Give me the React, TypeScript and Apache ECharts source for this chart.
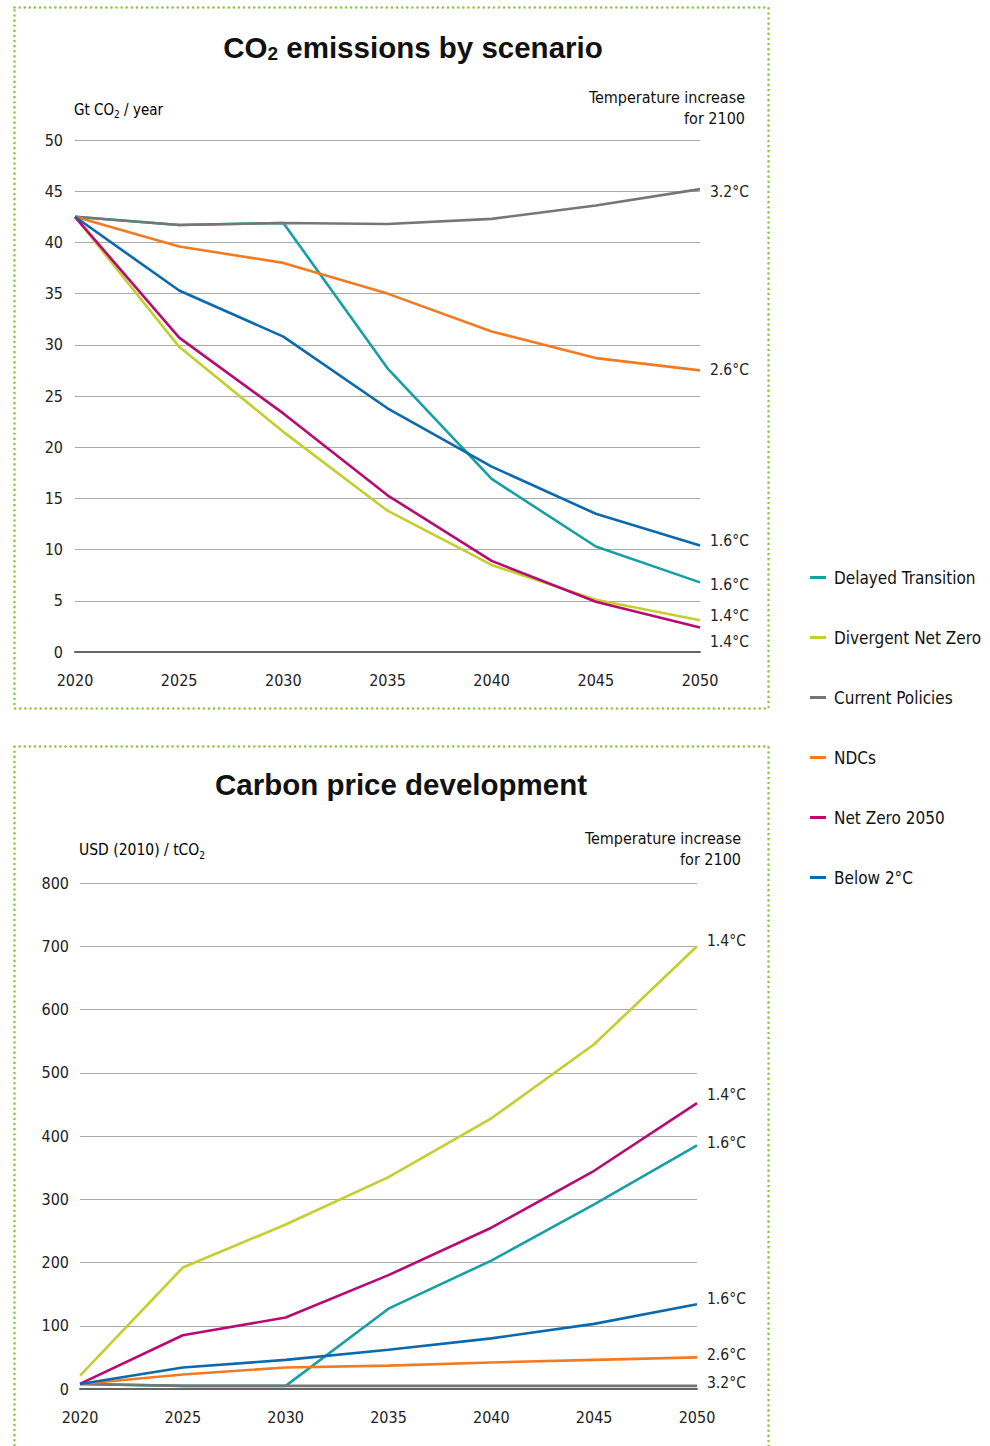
import React, { useEffect, useRef } from "react";
import * as echarts from "echarts";

const years = [2020, 2025, 2030, 2035, 2040, 2045, 2050];
const scenarios = ["Delayed Transition", "Divergent Net Zero", "Current Policies", "NDCs", "Net Zero 2050", "Below 2°C"];
const colors = ["#16a0a6", "#c3cf2c", "#767676", "#f47a22", "#b70a73", "#0b69ad"];

// Emissions, Gt CO2 / year
const emDelayed = [42.5, 41.7, 41.9, 27.7, 16.9, 10.3, 6.8];
const emDivergent = [42.5, 29.8, 21.5, 13.8, 8.5, 5.1, 3.1];
const emCurrent = [42.5, 41.7, 41.9, 41.8, 42.3, 43.6, 45.2];
const emNDCs = [42.5, 39.6, 38.0, 35.0, 31.3, 28.7, 27.5];
const emNetZero = [42.5, 30.7, 23.3, 15.3, 8.9, 4.9, 2.4];
const emBelow2 = [42.5, 35.3, 30.8, 23.8, 18.1, 13.5, 10.4];
const emTemps = ["1.6°C", "1.4°C", "3.2°C", "2.6°C", "1.4°C", "1.6°C"];

// Carbon price, USD (2010) / tCO2
const prDelayed = [8, 5, 5, 127, 203, 292, 385];
const prDivergent = [21, 192, 260, 335, 428, 545, 700];
const prCurrent = [8, 5, 5, 5, 5, 5, 5];
const prNDCs = [8, 23, 34, 37, 42, 46, 50];
const prNetZero = [8, 85, 113, 180, 255, 345, 452];
const prBelow2 = [8, 34, 46, 62, 80, 103, 134];
const prTemps = ["1.6°C", "1.4°C", "3.2°C", "2.6°C", "1.4°C", "1.6°C"];

const emTicks = [0, 5, 10, 15, 20, 25, 30, 35, 40, 45, 50];
const prTicks = [0, 100, 200, 300, 400, 500, 600, 700, 800];

const FONT = '"Liberation Sans Narrow", "DejaVu Sans Condensed", "Roboto Condensed", sans-serif';
const TITLE_FONT = '"Liberation Sans", Arial, sans-serif';

const emSeries = [emDelayed, emDivergent, emCurrent, emNDCs, emNetZero, emBelow2];
const prSeries = [prDelayed, prDivergent, prCurrent, prNDCs, prNetZero, prBelow2];
const emLabelOffsets = [3, -4, 3, 0, 15, -5];
const prLabelOffsets = [-2, -5, -3, -2, -8, -5];

export default function App() {
  const ref = useRef<HTMLDivElement>(null);
  useEffect(() => {
    if (!ref.current) return;
    const chart = echarts.init(ref.current, undefined, { renderer: "svg" });

    const mkSeries = (data: number[][], temps: string[], offs: number[], idx: number) =>
      data.map((vals, i) => ({
        name: scenarios[i],
        type: "line",
        xAxisIndex: idx,
        yAxisIndex: idx,
        data: vals.map((v, j) => [years[j], v]),
        showSymbol: false,
        symbol: "none",
        lineStyle: { color: colors[i], width: 2.6 },
        itemStyle: { color: colors[i] },
        endLabel: {
          show: true,
          formatter: () => temps[i],
          color: "#222",
          fontFamily: FONT,
          fontSize: 15.5,
          distance: 10,
          offset: [0, offs[i]],
        },
      }));

    const xAxisBase = (gi: number) => ({
      type: "value",
      gridIndex: gi,
      min: 2020,
      max: 2050,
      interval: 5,
      axisLine: { show: true, lineStyle: { color: "#666", width: 2 } },
      axisTick: { show: false },
      splitLine: { show: false },
      axisLabel: { color: "#222", fontFamily: FONT, fontSize: 16, margin: 20, formatter: (v: number) => String(v) },
    });

    const yAxisBase = (gi: number, max: number, interval: number, margin: number) => ({
      type: "value",
      gridIndex: gi,
      min: 0,
      max,
      interval,
      axisLine: { show: false },
      axisTick: { show: false },
      splitLine: { show: true, lineStyle: { color: "#aaaaaa", width: 1 } },
      axisLabel: { color: "#222", fontFamily: FONT, fontSize: 16, margin },
    });

    const richSub = (size: number, subSize: number, bold: boolean, font: string) => ({
      a: { fontSize: size, fontWeight: bold ? "bold" : "normal", fontFamily: font, color: "#111" },
      s: { fontSize: subSize, fontWeight: bold ? "bold" : "normal", fontFamily: font, color: "#111", padding: [bold ? 13 : 10, 0, 0, 0] },
    });

    const dotted = {
      stroke: "#8cc63f",
      fill: "none",
      lineWidth: 2.5,
      lineDash: [0.1, 5],
      lineCap: "round",
    };

    chart.setOption({
      animation: false,
      backgroundColor: "#ffffff",
      title: [
        {
          text: "{a|CO}{s|2}{a| emissions by scenario}",
          left: 408,
          top: 26,
          textAlign: "center",
          textStyle: { rich: richSub(29.5, 19, true, TITLE_FONT) },
        },
        {
          text: "Carbon price development",
          left: 396,
          top: 764,
          textAlign: "center",
          textStyle: { fontSize: 29.5, fontWeight: "bold", fontFamily: TITLE_FONT, color: "#111" },
        },
      ],
      legend: {
        orient: "vertical",
        left: 805,
        top: 564,
        itemGap: 43,
        itemWidth: 16,
        itemHeight: 3,
        icon: "rect",
        data: scenarios,
        textStyle: { fontFamily: FONT, fontSize: 17, color: "#111", padding: [0, 0, 0, 3] },
        selectedMode: false,
      },
      grid: [
        { left: 75, top: 140, width: 625, height: 512 },
        { left: 80, top: 883, width: 617, height: 506 },
      ],
      xAxis: [xAxisBase(0), xAxisBase(1)],
      yAxis: [yAxisBase(0, emTicks[emTicks.length - 1], emTicks[1] - emTicks[0], 12), yAxisBase(1, prTicks[prTicks.length - 1], prTicks[1] - prTicks[0], 11)],
      series: [...mkSeries(emSeries, emTemps, emLabelOffsets, 0), ...mkSeries(prSeries, prTemps, prLabelOffsets, 1)],
      graphic: [
        { type: "rect", shape: { x: 14.5, y: 7.5, width: 754, height: 701 }, style: dotted, silent: true },
        { type: "rect", shape: { x: 14.5, y: 746.5, width: 754, height: 720 }, style: dotted, silent: true },
        {
          type: "text",
          left: 74,
          top: 102,
          style: { text: "{a|Gt CO}{s|2}{a| / year}", rich: richSub(15, 10, false, FONT) },
        },
        {
          type: "text",
          left: 79,
          top: 842,
          style: { text: "{a|USD (2010) / tCO}{s|2}", rich: richSub(15.5, 10, false, FONT) },
        },
        {
          type: "text",
          x: 745,
          y: 87,
          style: { text: "Temperature increase\nfor 2100", align: "right", fontFamily: FONT, fontSize: 16, lineHeight: 21, fill: "#111" },
        },
        {
          type: "text",
          x: 741,
          y: 828,
          style: { text: "Temperature increase\nfor 2100", align: "right", fontFamily: FONT, fontSize: 16, lineHeight: 21, fill: "#111" },
        },
      ],
    });
    return () => chart.dispose();
  }, []);
  return <div ref={ref} style={{ position: "absolute", left: 0, top: 0, width: 990, height: 1446 }} />;
}
